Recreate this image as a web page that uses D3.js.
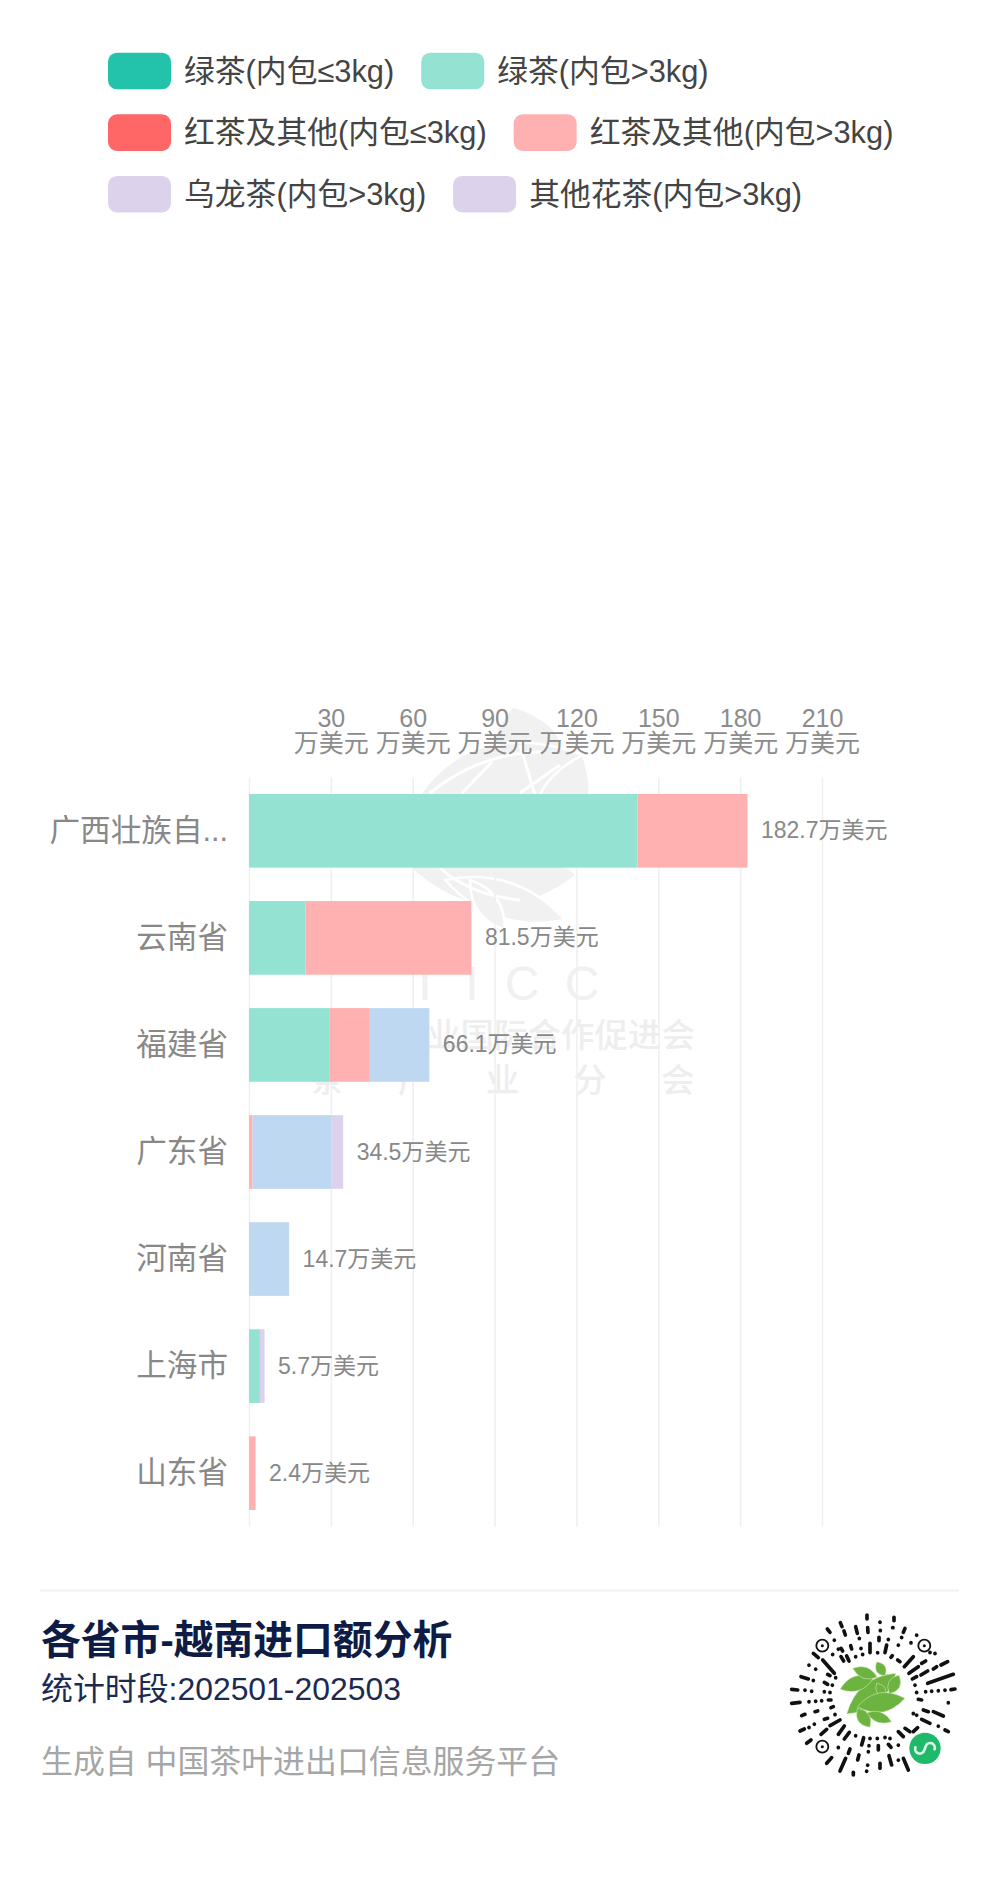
<!DOCTYPE html>
<html lang="zh">
<head>
<meta charset="utf-8">
<script src="https://cdn.jsdelivr.net/npm/d3@7/dist/d3.min.js"></script>
<style>
html,body{margin:0;padding:0;background:#fff}
svg{display:block}
text{font-family:"Liberation Sans","Noto Sans CJK SC",sans-serif}
</style>
</head>
<body>
<svg id="c" width="1000" height="1898"></svg>
<script>
// ---------- data ----------
const categories = ["广西壮族自...","云南省","福建省","广东省","河南省","上海市","山东省"];
const greenLight = [142.4,20.7,29.6,0,0,4.0,0];
const redLight   = [40.3,60.8,14.7,1.3,0,0,2.4];
const blueOther  = [0,0,21.8,28.9,14.7,0,0];
const purple     = [0,0,0,4.3,0,1.7,0];
const totals     = [182.7,81.5,66.1,34.5,14.7,5.7,2.4];
const tickValues = [0,30,60,90,120,150,180,210];
const unit = "万美元";
const legendLabels = ["绿茶(内包≤3kg)","绿茶(内包>3kg)","红茶及其他(内包≤3kg)","红茶及其他(内包>3kg)","乌龙茶(内包>3kg)","其他花茶(内包>3kg)"];
const legendColors = ["#22c3aa","#93e2d2","#ff6666","#ffb0b0","#dcd2ec","#dcd2ec"];
const seriesKeys = ["greenLight","redLight","blueOther","purple"];
const seriesColors = ["#93e2d2","#ffb0b0","#bfd8f2","#dcd2ec"];
const title = "各省市-越南进口额分析";
const subtitle = "统计时段:202501-202503";
const source = "生成自 中国茶叶进出口信息服务平台";
const wmLine1 = "业国际合作促进会";
const wmLine2 = ["茶","产","业","分","会"];
const wmLetters = ["I","I","C","C"];

// QR decoration strokes
const qrDashes = [
[291,45,291,57],[372,52,372,62],[330,66,330,67],[368,83,369,83],[211,68,216,80],[172,87,180,97],[222,93,226,105],[257,80,262,100],[293,83,294,97],[331,91,331,92],[405,85,400,97],[355,118,355,119],[440,105,440,106],[385,135,385,136],[300,130,300,158],[350,135,345,158],[268,115,268,116],[213,145,218,153],[242,137,245,147],[193,120,193,121],[273,145,273,146],[278,163,278,164],[257,170,257,171],[188,163,188,164],[205,147,205,148],[213,170,221,183],[230,168,237,183],[158,180,193,220],[130,160,145,173],[117,195,117,196],[137,207,137,208],[173,223,180,227],[197,233,197,234],[93,230,115,237],[130,241,130,242],[163,247,173,253],[187,255,187,256],[65,268,83,270],[105,270,105,271],[125,273,125,274],[163,275,163,276],[180,277,180,278],
[327,112,327,122],[395,112,395,113],[423,128,423,129],[323,158,323,159],[367,167,363,172],[383,180,390,185],[430,170,403,200],[445,200,417,220],[467,183,455,190],[495,160,495,161],[480,157,480,158],[500,200,490,207],[533,185,513,195],[473,213,453,225],[440,230,427,237],[550,223,473,250],[435,255,435,256],[440,277,440,278],[467,275,467,276],[485,273,485,274],[505,272,505,273],[525,270,525,271],[555,267,543,269],
[65,310,90,307],[117,305,117,306],[137,303,137,304],[155,302,155,303],[175,300,183,300],[183,323,190,320],[135,335,143,333],[95,347,105,343],[195,343,195,344],[163,358,173,355],[90,393,103,387],[117,382,117,383],[133,372,133,373],[180,377,210,360],[153,403,170,388],[205,403,223,378],[223,417,238,397],[257,407,257,408],[110,430,123,420],[275,435,281,413],[300,415,300,416],[297,437,297,438],[295,455,295,456],[205,442,205,443],[235,460,240,447],[263,480,267,465],[170,490,185,473],[210,513,227,475],[250,525,250,517],[293,495,293,496],[290,513,290,514],
[535,308,535,309],[445,298,455,300],[460,330,475,335],[490,335,520,348],[430,340,430,341],[455,358,480,370],[505,378,505,379],[525,390,535,395],[430,395,443,383],[405,385,420,395],[385,395,400,410],[360,415,360,416],[345,412,345,413],[322,415,322,416],[325,437,325,450],[355,433,363,442],[385,435,385,436],[357,467,365,495],[400,475,415,510],[330,490,330,505],[385,480,385,481],[440,345,440,346]
];
const qrEyes = [[157,137],[463,137],[157,440]];
const qrLeaves = [[230,342,378,220,66],[210,268,312,232,44],[248,205,322,232,34],[320,185,345,228,30],[387,225,358,282,36],[320,250,345,290,28],[262,320,405,295,58],[262,325,300,382,38],[290,338,365,365,32]];
const wmLeaves = [[540,800,513,706,72],[395,845,583,755,104],[583,755,540,860,50],[410,868,577,875,70],[445,880,565,920,36],[470,880,505,930,22]];
const wmVeins = ["M430,793Q480,752 545,752","M462,793L492,762","M520,793L560,765","M535,795L520,745","M440,868Q470,895 520,900"];

// ---------- setup ----------
const svg = d3.select("#c");
const margin = {left:249, right:822, top:777.3, bottom:1526.7};
const x = d3.scaleLinear().domain([0,210]).range([margin.left,margin.right]);
const y = d3.scaleBand().domain(categories).range([margin.top,margin.bottom]).paddingInner(0.312).paddingOuter(0.156);
function leafPath(x1,y1,x2,y2,w){
  const mx=(x1+x2)/2,my=(y1+y2)/2,dx=x2-x1,dy=y2-y1,l=Math.hypot(dx,dy),nx=-dy/l*w,ny=dx/l*w;
  return `M${x1},${y1}Q${mx+nx},${my+ny} ${x2},${y2}Q${mx-nx},${my-ny} ${x1},${y1}Z`;
}

// ---------- legend ----------
const legendRows = [[0,1],[2,3],[4,5]];
const legendG = svg.append("g");
legendRows.forEach((row,r)=>{
  let cx = 108;
  const cy = 71 + r*61.6;
  row.forEach(i=>{
    legendG.append("rect").attr("x",cx).attr("y",cy-18.3).attr("width",63).attr("height",36.6).attr("rx",9).attr("fill",legendColors[i]);
    const t = legendG.append("text").attr("x",cx+76).attr("y",cy+10.5).attr("font-size",30.8).attr("fill","#444").text(legendLabels[i]);
    cx += 76 + t.node().getComputedTextLength() + 27;
  });
});

// ---------- watermark ----------
const wm = svg.append("g");
wm.selectAll("path.leaf").data(wmLeaves).join("path").attr("class","leaf").attr("d",d=>leafPath(...d)).attr("fill","#f1f1f1").attr("stroke","#fff").attr("stroke-width",2.5);
wm.selectAll("path.vein").data(wmVeins).join("path").attr("class","vein").attr("d",d=>d).attr("fill","none").attr("stroke","#fff").attr("stroke-width",3);
wmLetters.forEach((c,i)=>wm.append("text").attr("x",[425,472,522,582][i]).attr("y",1000).attr("text-anchor","middle").attr("font-size",48).attr("fill","#f0f0f0").text(c));
wm.append("text").attr("x",695).attr("y",1047).attr("text-anchor","end").attr("font-size",33.5).attr("font-weight",500).attr("fill","#eeeeee").text(wmLine1);
wmLine2.forEach((c,i)=>wm.append("text").attr("x",327+i*87.7).attr("y",1092).attr("text-anchor","middle").attr("font-size",33.5).attr("font-weight",500).attr("fill","#eeeeee").text(c));

// ---------- grid + top axis ----------
const grid = svg.append("g").attr("transform",`translate(0,${margin.bottom})`)
  .call(d3.axisBottom(x).tickValues(tickValues).tickSize(-(margin.bottom-margin.top)).tickFormat(""));
grid.select(".domain").remove();
grid.selectAll("line").attr("stroke","#f0f0f0").attr("stroke-width",1.6);

const topAxis = svg.append("g").attr("transform",`translate(0,${margin.top})`)
  .call(d3.axisTop(x).tickValues(tickValues.slice(1)).tickSize(0));
topAxis.select(".domain").remove();
topAxis.selectAll("text").each(function(d){
  const t = d3.select(this).text(null).attr("font-size",25).attr("fill","#8c8c8c").attr("font-family",null).attr("y",null).attr("dy",null);
  t.append("tspan").attr("x",0).attr("y",-50).text(d);
  t.append("tspan").attr("x",0).attr("y",-25).text(unit);
});

// ---------- bars ----------
const rows = categories.map((c,i)=>({cat:c,greenLight:greenLight[i],redLight:redLight[i],blueOther:blueOther[i],purple:purple[i]}));
const stacked = d3.stack().keys(seriesKeys)(rows);
svg.append("g").selectAll("g").data(stacked).join("g").attr("fill",(d,i)=>seriesColors[i])
  .selectAll("rect").data(d=>d.filter(s=>s[1]>s[0])).join("rect")
  .attr("x",d=>x(d[0])).attr("y",d=>y(d.data.cat)).attr("width",d=>x(d[1])-x(d[0])).attr("height",y.bandwidth());

// ---------- category labels and totals ----------
svg.append("g").selectAll("text").data(categories).join("text")
  .attr("x",228).attr("y",d=>y(d)+y.bandwidth()/2+10).attr("text-anchor","end").attr("font-size",30.6).attr("fill","#888").text(d=>d);
svg.append("g").selectAll("text").data(totals).join("text")
  .attr("x",d=>x(d)+13.5).attr("y",(d,i)=>y(categories[i])+y.bandwidth()/2+7.5).attr("font-size",23).attr("fill","#888").text(d=>d+unit);

// ---------- footer ----------
svg.append("line").attr("x1",40).attr("x2",959).attr("y1",1590.5).attr("y2",1590.5).attr("stroke","#f2f2f2").attr("stroke-width",2);
svg.append("text").attr("x",41).attr("y",1654).attr("font-size",39.8).attr("font-weight",700).attr("fill","#0e1b45").text(title);
svg.append("text").attr("x",41).attr("y",1700).attr("font-size",31.9).attr("fill","#1c2a52").text(subtitle);
svg.append("text").attr("x",41).attr("y",1773).attr("font-size",31.9).attr("fill","#a6a6a6").text(source);

// ---------- QR decoration ----------
const qr = svg.append("g").attr("transform","translate(770,1600) scale(0.3333)");
qr.selectAll("line").data(qrDashes).join("line")
  .attr("x1",d=>d[0]).attr("y1",d=>d[1]).attr("x2",d=>d[2]).attr("y2",d=>d[3])
  .attr("stroke","#111").attr("stroke-width",11).attr("stroke-linecap","round");
qrEyes.forEach(e=>{
  qr.append("circle").attr("cx",e[0]).attr("cy",e[1]).attr("r",18).attr("fill","none").attr("stroke","#111").attr("stroke-width",5.5);
  qr.append("circle").attr("cx",e[0]).attr("cy",e[1]).attr("r",4.5).attr("fill","#111");
});
qr.selectAll("path.leaf").data(qrLeaves).join("path").attr("class","leaf").attr("d",d=>leafPath(...d)).attr("fill","#6cb33f").attr("stroke","#e6f3d8").attr("stroke-width",1.5);
qr.append("circle").attr("cx",465).attr("cy",445).attr("r",47).attr("fill","#1fb96a");
qr.append("path").attr("transform","rotate(20 465 445)").attr("d","M437,452a14,14 0 1 0 28,0v-14a14,14 0 1 1 28,0")
  .attr("fill","none").attr("stroke","#dff5e8").attr("stroke-width",8).attr("stroke-linecap","round");
</script>
</body>
</html>
